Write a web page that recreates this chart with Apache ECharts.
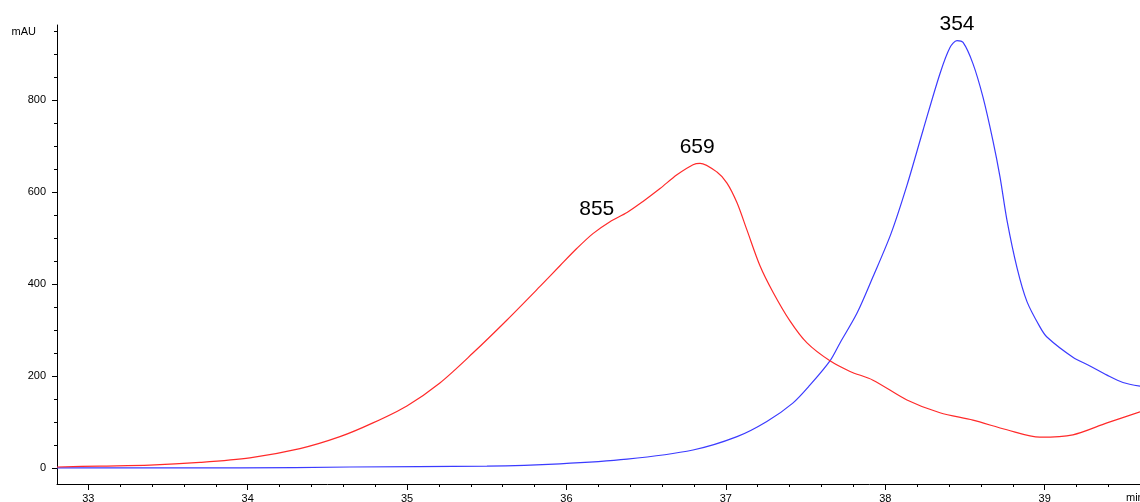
<!DOCTYPE html>
<html>
<head>
<meta charset="utf-8">
<script src="https://cdn.jsdelivr.net/npm/echarts@6/dist/echarts.min.js"></script>
<style>
html,body{margin:0;padding:0;background:#fff;overflow:hidden;}
#c{width:1140px;height:502px;}
</style>
</head>
<body>
<div id="c"></div>
<script>
// Red trace: retention time (min) and absorbance (mAU)
const redTime = [32.804, 33.073, 33.387, 33.701, 34.014, 34.328, 34.579, 34.786, 34.999, 35.206, 35.413, 35.627, 35.834, 35.959, 36.066, 36.166, 36.273, 36.380, 36.480, 36.587, 36.693, 36.794, 36.838, 36.944, 37.007, 37.070, 37.132, 37.214, 37.295, 37.402, 37.509, 37.653, 37.779, 37.923, 38.136, 38.343, 38.550, 38.763, 38.970, 39.177, 39.391, 39.598];
const redValue = [2, 4, 6, 12, 22, 42, 68, 98, 135, 185, 250, 322, 395, 440, 478, 510, 536, 556, 580, 608, 638, 660, 663, 644, 620, 577, 518, 440, 383, 320, 272, 233, 210, 191, 148, 120, 104, 83, 67, 72, 98, 122];

// Blue trace
const blueTime = [32.804, 33.952, 34.642, 35.501, 35.959, 36.380, 36.794, 37.070, 37.257, 37.420, 37.527, 37.653, 37.716, 37.823, 37.923, 38.036, 38.136, 38.237, 38.343, 38.406, 38.450, 38.488, 38.550, 38.613, 38.675, 38.720, 38.763, 38.827, 38.889, 38.970, 39.014, 39.177, 39.284, 39.391, 39.491, 39.598];
const blueValue = [0, 0, 2, 4, 9, 19, 39, 68, 101, 141, 180, 233, 272, 337, 416, 510, 615, 735, 858, 915, 930, 926, 880, 807, 713, 633, 540, 435, 362, 307, 285, 241, 222, 202, 186, 178];

// Peak annotations
const peakLabels = [
  {series: 'red', time: 36.19, value: 520, text: '855', dist: 9},
  {series: 'red', time: 36.82, value: 662, text: '659', dist: 6},
  {series: 'blue', time: 38.45, value: 930, text: '354', dist: 6}
];

const xMajorTicks = [33, 34, 35, 36, 37, 38, 39];
const yMajorTicks = [0, 200, 400, 600, 800];

const xMin = 32.804, xMax = 39.598, yMin = -35, yMax = 964;

const xMinor = [];
for (let i = 164; i <= 198; i++) xMinor.push(+(i * 0.2).toFixed(1));
const yMinor = [];
for (let v = 0; v <= 950; v += 50) yMinor.push(v);

const zip = (a, b) => a.map((t, i) => [t, b[i]]);
const font = 'Liberation Sans, Arial, sans-serif';

function marks(name) {
  return peakLabels.filter(p => p.series === name).map(p => ({
    coord: [p.time, p.value],
    value: p.text,
    symbol: 'circle',
    symbolSize: 0,
    label: {
      show: true,
      formatter: p.text,
      position: 'top',
      distance: p.dist,
      color: '#000',
      fontSize: 21,
      fontFamily: font
    }
  }));
}

const chart = echarts.init(document.getElementById('c'), null, {renderer: 'canvas'});
chart.setOption({
  animation: false,
  backgroundColor: '#fff',
  grid: {left: 57, right: 0, top: 25, bottom: 18, containLabel: false, outerBoundsMode: 'none'},
  xAxis: [
    {
      type: 'value', min: xMin, max: xMax, position: 'bottom',
      axisLine: {show: true, onZero: false, lineStyle: {color: '#000', width: 1}},
      axisTick: {show: true, customValues: xMinor, length: 3, lineStyle: {color: '#000'}},
      axisLabel: {show: false},
      splitLine: {show: false}
    },
    {
      type: 'value', min: xMin, max: xMax, position: 'bottom', offset: 0,
      axisLine: {show: false, onZero: false},
      axisTick: {show: true, customValues: xMajorTicks, length: 6, lineStyle: {color: '#000'}},
      axisLabel: {show: true, customValues: xMajorTicks, margin: 9, color: '#000', fontSize: 11, fontFamily: font},
      splitLine: {show: false},
      name: 'min', nameLocation: 'end', nameGap: -14,
      nameTextStyle: {color: '#000', fontSize: 11, fontFamily: font, align: 'left', verticalAlign: 'top', padding: [8, 0, 0, 0]}
    }
  ],
  yAxis: [
    {
      type: 'value', min: yMin, max: yMax, position: 'left',
      axisLine: {show: true, onZero: false, lineStyle: {color: '#000', width: 1}},
      axisTick: {show: true, customValues: yMinor, length: 3, lineStyle: {color: '#000'}},
      axisLabel: {show: false},
      splitLine: {show: false},
      name: 'mAU', nameLocation: 'end', nameGap: -7,
      nameTextStyle: {color: '#000', fontSize: 11, fontFamily: font, align: 'right', verticalAlign: 'middle', padding: [0, 21, 0, 0]}
    },
    {
      type: 'value', min: yMin, max: yMax, position: 'left', offset: 0,
      axisLine: {show: false, onZero: false},
      axisTick: {show: true, customValues: yMajorTicks, length: 5, lineStyle: {color: '#000'}},
      axisLabel: {show: true, customValues: yMajorTicks, margin: 11, color: '#000', fontSize: 11, fontFamily: font},
      splitLine: {show: false}
    }
  ],
  series: [
    {
      name: 'red', type: 'line', xAxisIndex: 0, yAxisIndex: 0,
      data: zip(redTime, redValue), smooth: 0.3, showSymbol: false, symbol: 'none',
      lineStyle: {color: '#ff2a2a', width: 1.2}, z: 3,
      markPoint: {data: marks('red'), animation: false}
    },
    {
      name: 'blue', type: 'line', xAxisIndex: 0, yAxisIndex: 0,
      data: zip(blueTime, blueValue), smooth: 0.3, showSymbol: false, symbol: 'none',
      lineStyle: {color: '#3b3bff', width: 1.2}, z: 2,
      markPoint: {data: marks('blue'), animation: false}
    }
  ]
});
</script>
</body>
</html>
